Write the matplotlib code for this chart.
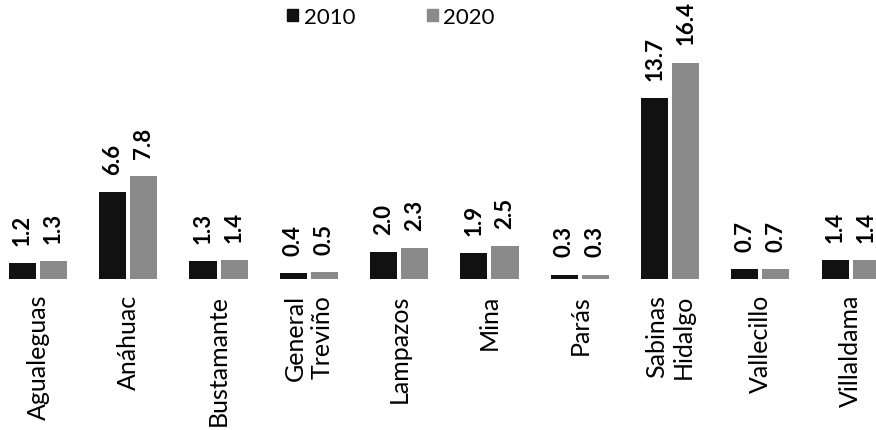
import matplotlib
matplotlib.use("Agg")
import matplotlib.pyplot as plt
from matplotlib.patches import Patch
import numpy as np

plt.rcParams['font.family'] = ['Lato', 'DejaVu Sans']

municipios = ['Agualeguas', 'Anáhuac', 'Bustamante', 'General\nTreviño', 'Lampazos',
              'Mina', 'Parás', 'Sabinas\nHidalgo', 'Vallecillo', 'Villaldama']
v2010 = [1.2, 6.6, 1.3, 0.4, 2.0, 1.9, 0.3, 13.7, 0.7, 1.4]
v2020 = [1.3, 7.8, 1.4, 0.5, 2.3, 2.5, 0.3, 16.4, 0.7, 1.4]
series = ['2010', '2020']

c2010 = '#111111'
c2020 = '#8a8a8a'

fig = plt.figure(figsize=(8.76, 4.31), dpi=100)
ax = fig.add_axes([0, 151.5 / 431, 1, (431 - 151.5 - 10) / 431])

x = np.arange(len(municipios))
w = 0.30
off = 0.172
b1 = ax.bar(x - off, v2010, w, color=c2010)
b2 = ax.bar(x + off, v2020, w, color=c2020)

for bars, vals in ((b1, v2010), (b2, v2020)):
    for rect, v in zip(bars, vals):
        ax.annotate(f'{v:.1f}', (rect.get_x() + rect.get_width() / 2, rect.get_height()),
                    xytext=(0, 13), textcoords='offset points', rotation=90,
                    ha='center', va='bottom', fontsize=16, fontweight='bold')

ax.set_xlim(-0.42, 9.28)
ax.set_ylim(0, (431 - 151.5 - 10) / 13.17)
ax.set_xticks(x)
ax.set_xticklabels(municipios, rotation=90, fontsize=18, ha='center', va='top',
                   multialignment='right', linespacing=1.2)
ax.tick_params(axis='x', length=0, pad=11)
ax.set_yticks([])
for s in ax.spines.values():
    s.set_visible(False)

handles = [Patch(color=c2010), Patch(color=c2020)]
fig.legend(handles, series, loc='center', bbox_to_anchor=(391 / 876, 1 - 18 / 431),
           ncol=2, frameon=False, fontsize=16, handlelength=0.5, handleheight=0.5,
           handletextpad=0.25, columnspacing=3.2)

fig.savefig('out.png', dpi=100)
